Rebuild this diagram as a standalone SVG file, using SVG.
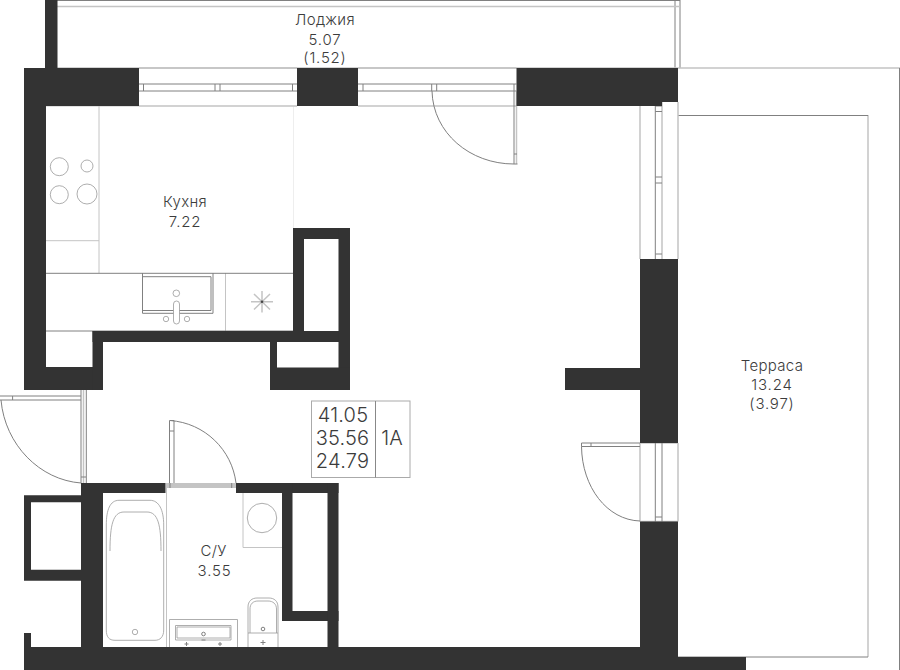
<svg xmlns="http://www.w3.org/2000/svg" width="900" height="670" viewBox="0 0 900 670">
<style>
.w{fill:#333;stroke:none}
.d,.l,.f{fill:none}
.d{stroke:#808080;stroke-width:1}
.l{stroke:#c4c4c4;stroke-width:1.5}
.t{stroke-width:1}
.f{stroke:#999;stroke-width:.8}
text{font-family:Inter,"Noto Sans",sans-serif;font-weight:300;fill:#3c3c3c;text-anchor:middle;font-size:15px;letter-spacing:.3px}
.v{letter-spacing:.8px}
.n{font-size:20px;letter-spacing:.2px}
</style>
<rect width="900" height="670" fill="#fff"/>
<g id="loggia">
<path class="d" d="M57 .5H680M675 0V68M680 0V68"/>
<path class="l" d="M57 6.500H680M57 68H678"/>
<text x="325" y="25">Лоджия</text><text class="v" x="325" y="44.500">5.07</text><text class="v" x="325" y="63">(1.52)</text>
</g>
<g id="terrace">
<path class="l" d="M678 68H900M868 115V657"/>
<path class="d" d="M678 115.500H868M678 657H868M899.500 68V670"/>
<text x="772" y="371">Терраса</text><text class="v" x="772" y="390">13.24</text><text class="v" x="772" y="409">(3.97)</text>
</g>
<g id="kitchen">
<path class="l t" d="M99 106V273M46 240.700H99M225.500 273V331M46 106H139"/>
<path stroke="#eee" fill="none" d="M293.500 106V228"/>
<path class="d" d="M46 273.300H293M46 331H293"/>
<circle class="f" cx="59.300" cy="166.700" r="9"/><circle class="f" cx="87" cy="166" r="6"/><circle class="f" cx="59.300" cy="194.700" r="9"/><circle class="f" cx="87" cy="194" r="10"/>
<path class="d" d="M142.500 273V313.300H213V273M142.500 310.500H211V276.700H142.500"/>
<rect class="f" x="173.500" y="301" width="6" height="23" rx="3" style="fill:#fff"/>
<circle class="f" cx="176.300" cy="293.300" r="3.300"/><circle class="f" cx="166" cy="319" r="2.700"/><circle class="f" cx="187" cy="319" r="2.700"/>
<path class="l" d="M262 291V312.500M251 301.700H273M254 294L270 309.500M270 294L254 309.500"/>
<circle cx="262" cy="301.700" r="1.300" fill="#444"/>
<text x="185" y="207">Кухня</text><text class="v" x="185" y="227">7.22</text>
</g>
<g id="windows">
<path class="l" d="M139 68H297M139 106H297M358 68H516.500M358 106H516.500M640 106V259M662 102V259M678 102V259"/>
<path class="d" d="M139 84H297M139 91H297M143.500 84V91M215 84V91M220 84V91M292.500 84V91M358 84H516.500M358 91H516.500M363 84V91M431.700 84V91M436.700 84V91M514 84V91M655.300 106V259M655.300 106H662M655.300 111.500H662M655.300 177H662M655.300 183H662M655.300 254H662"/>
</g>
<g id="balcony-door">
<path class="l" d="M516.500 91V164"/>
<path class="d" d="M514 91V164H517.500M514 154H517M432 91C433 133 470 164 514 164"/>
</g>
<g id="terrace-door">
<path class="l" d="M640 443V521.500M678 443V521.500M640 443H678M640 521.500H678"/>
<path class="d" d="M581.500 443H640M581.500 446.500H640M655.300 443V521.500M662 443V521.500M655.300 517H662M591 443V446.500M581.500 443V446.500C582 487 607 520 640 521"/>
</g>
<g id="entry-door">
<path class="l" d="M83.500 390V483"/>
<path class="d" d="M0 396H81M0 400H81M12.600 396V400M81 390V483M86.300 390V483M81 477H86M1 400C5 445 40 480 81 483"/>
</g>
<g id="bath-door">
<rect x="166" y="483" width="70" height="5" fill="#c4c4c4"/>
<path class="d" d="M169.500 483V420.500H174V483M169.500 431H174M170 483V488M231.700 483V488M170 420.500C205 423 232 450 236 483"/>
</g>
<g id="bathroom">
<path class="l t" d="M166.500 488V647M243 493V547.500H282"/>
<circle class="f" cx="262" cy="518" r="14.700"/>
<path class="f" d="M119 500.300H150C159 500.300 163.700 510 163.700 525V630C163.700 637 160 640.300 155 640.300H115C109 640.300 106.300 637 106.300 630V525C106.300 510 110 500.300 119 500.300ZM110 551C110 525 113 512 124 512H147C158 512 161 525 161 551"/>
<circle class="f" cx="135" cy="632" r="2.700"/>
<path class="f" d="M169.500 647V619.500H237.500V647M175.500 625.500H231V640H175.500ZM177 627H230V638H177Z"/>
<circle class="d" cx="203.500" cy="634" r="1.800"/>
<path class="d" d="M201.500 640H205.500M184.500 644H188.500M186.500 642V646M218 644H222M220 642V646"/>
<path class="f" d="M248 647V607C248 601 252 598 257 598H269C274 598 278 601 278 607V647M250 633V609C250 604 253 601 258 601H268C273 601 276.500 604 276.500 609V633M248 633H278"/>
<circle class="d" cx="263" cy="629" r="1.800"/>
<path class="d" d="M260.500 642.500H265.500M263 640V645"/>
<text x="213.500" y="556">С/У</text><text class="v" x="214.500" y="576">3.55</text>
</g>
<g id="walls">
<rect class="w" x="45" y="0" width="12.500" height="68"/>
<rect class="w" x="24" y="68" width="115" height="38"/>
<rect class="w" x="24" y="68" width="22" height="322"/>
<rect class="w" x="24" y="367" width="79" height="23"/>
<rect class="w" x="92.500" y="331" width="10.500" height="59"/>
<rect class="w" x="92.500" y="331" width="257.500" height="11"/>
<rect class="w" x="293" y="228" width="57" height="11"/>
<rect class="w" x="293" y="228" width="11" height="114"/>
<rect class="w" x="338.500" y="228" width="11.500" height="162"/>
<rect class="w" x="270" y="367.500" width="80" height="22.500"/>
<rect class="w" x="270" y="342" width="7" height="48"/>
<rect class="w" x="297" y="68" width="61" height="38"/>
<path class="w" d="M516.500 68H678V102H662V106H516.500Z"/>
<rect class="w" x="640" y="259" width="38" height="184"/>
<rect class="w" x="565" y="368" width="75" height="22"/>
<path class="w" d="M640 521.500H678V657H746V670H24V633H31V647H640Z"/>
<rect class="w" x="81" y="483" width="84.500" height="10"/>
<rect class="w" x="81" y="483" width="22" height="165"/>
<path class="w" d="M24 495.300H81V502.300H31V569.700H81V580.700H24Z"/>
<rect class="w" x="236" y="483" width="102.500" height="10"/>
<rect class="w" x="282" y="483" width="10.500" height="138"/>
<rect class="w" x="282" y="611" width="56.500" height="10"/>
<rect class="w" x="327.500" y="483" width="11" height="165"/>
</g>
<g id="info">
<rect x="311.500" y="401" width="98.500" height="76.500" fill="none" stroke="#aaa"/>
<path stroke="#888" d="M375.500 401V477.500"/>
<text class="n" x="343" y="422">41.05</text><text class="n" x="342.500" y="445">35.56</text><text class="n" x="342.500" y="468">24.79</text><text class="n" x="392" y="445">1А</text>
</g>
</svg>
